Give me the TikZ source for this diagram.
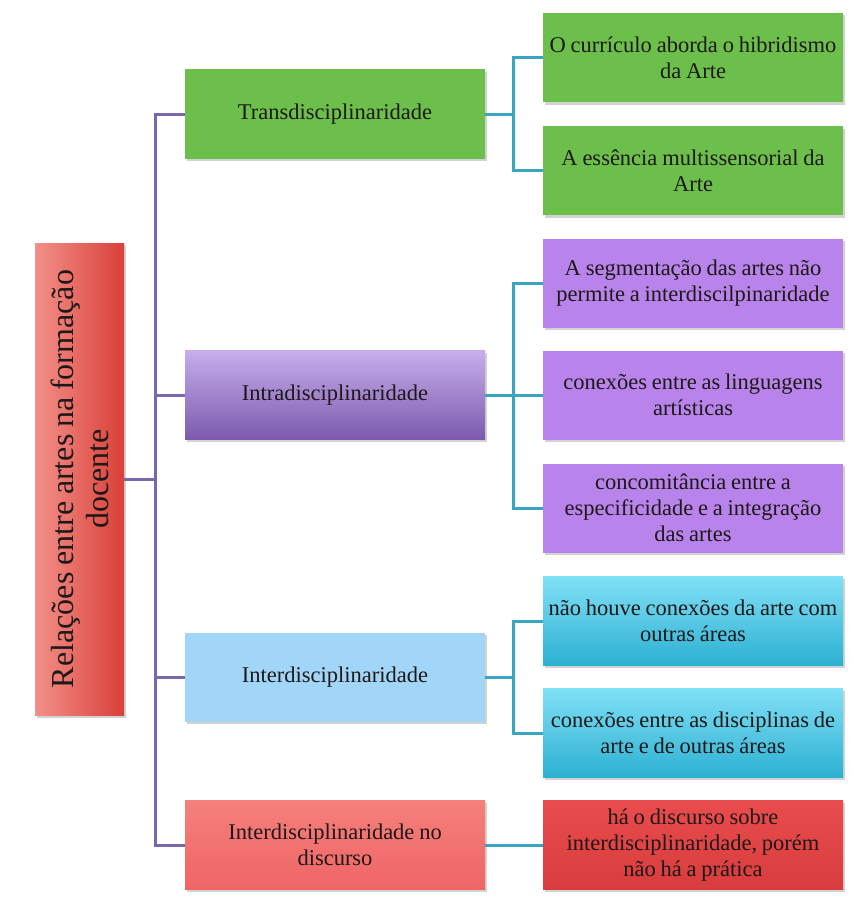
\documentclass[tikz,border=0pt]{standalone}
\usepackage{fontspec}
\setmainfont[WordSpace=0.85]{Liberation Serif}
\usetikzlibrary{shadows}
\definecolor{gr}{HTML}{6CBF4A}
\definecolor{pl}{HTML}{B883EA}
\definecolor{plt}{HTML}{C7AEEB}
\definecolor{pld}{HTML}{7B5AAE}
\definecolor{lb}{HTML}{A2D6F8}
\definecolor{cyt}{HTML}{80E0F6}
\definecolor{cyb}{HTML}{2DB0D2}
\definecolor{rdl}{HTML}{F5807C}
\definecolor{rdm}{HTML}{EF6565}
\definecolor{rdt}{HTML}{E94C4C}
\definecolor{rdb}{HTML}{D83C3C}
\definecolor{rootl}{HTML}{F29089}
\definecolor{rootr}{HTML}{D94038}
\definecolor{trunkc}{HTML}{7A68AE}
\definecolor{tealc}{HTML}{3AA5C2}
\definecolor{txt}{HTML}{1E1818}
\begin{document}
\begin{tikzpicture}[x=1pt,y=-1pt,
  box/.style={minimum width=300pt, minimum height=89pt, inner xsep=1pt, inner ysep=2pt,
    align=center, text=txt,
    font=\fontsize{22.5}{26}\selectfont,
    drop shadow={opacity=0.35,shadow xshift=1.5pt,shadow yshift=-2.5pt}},
  greenbox/.style={box, fill=gr},
  purplebox/.style={box, fill=pl},
  cyanbox/.style={box, top color=cyt, bottom color=cyb},
  redbox/.style={box, top color=rdt, bottom color=rdb},
  trunk/.style={draw=trunkc, line width=3pt},
  branch/.style={draw=tealc, line width=3pt}]
\useasboundingbox (0,0) rectangle (861,899);
\fill[white] (0,0) rectangle (861,899);
% root
\node[box, rotate=90, minimum width=472pt, minimum height=89pt,
  left color=rootl, right color=rootr, font=\fontsize{32}{35}\selectfont]
  (root) at (79.5,479) {Relações entre artes na formação\\docente};
% level 1
\node[greenbox] (t) at (335,114) {Transdisciplinaridade};
\node[box, top color=plt, bottom color=pld] (intra) at (335,395) {Intradisciplinaridade};
\node[box, fill=lb] (inter) at (335,677) {Interdisciplinaridade};
\node[box, top color=rdl, bottom color=rdm] (disc) at (335,845) {Interdisciplinaridade no\\discurso};
% level 2
\node[greenbox] (g1) at (693,57.5) {O currículo aborda o hibridismo\\da Arte};
\node[greenbox] (g2) at (693,170.5) {A essência multissensorial da\\Arte};
\node[purplebox] (p1) at (693,283) {A segmentação das artes não\\permite a interdiscilpinaridade};
\node[purplebox] (p2) at (693,395) {conexões entre as linguagens\\artísticas};
\node[purplebox] (p3) at (693,508) {concomitância entre a\\especificidade e a integração\\das artes};
\node[cyanbox] (c1) at (693,621) {não houve conexões da arte com\\outras áreas};
\node[cyanbox] (c2) at (693,733) {conexões entre as disciplinas de\\arte e de outras áreas};
\node[redbox] (r) at (693,845) {há o discurso sobre\\interdisciplinaridade, porém\\não há a prática};
% connectors
\coordinate (tj) at (155,479);
\coordinate (bx) at (513,0);
\draw[trunk] (root.south) -- (tj);
\draw[trunk] (t.west) -| (tj) |- (disc.west);
\draw[trunk] (intra.west) -- (intra.west -| tj);
\draw[trunk] (inter.west) -- (inter.west -| tj);
\draw[branch] (t.east) -- (t.east -| bx);
\draw[branch] (g1.west) -- (g1.west -| bx) -- (g2.west -| bx) -- (g2.west);
\draw[branch] (intra.east) -- (p2.west);
\draw[branch] (p1.west) -- (p1.west -| bx) -- (p3.west -| bx) -- (p3.west);
\draw[branch] (inter.east) -- (inter.east -| bx);
\draw[branch] (c1.west) -- (c1.west -| bx) -- (c2.west -| bx) -- (c2.west);
\draw[branch] (disc.east) -- (r.west);
\end{tikzpicture}
\end{document}
